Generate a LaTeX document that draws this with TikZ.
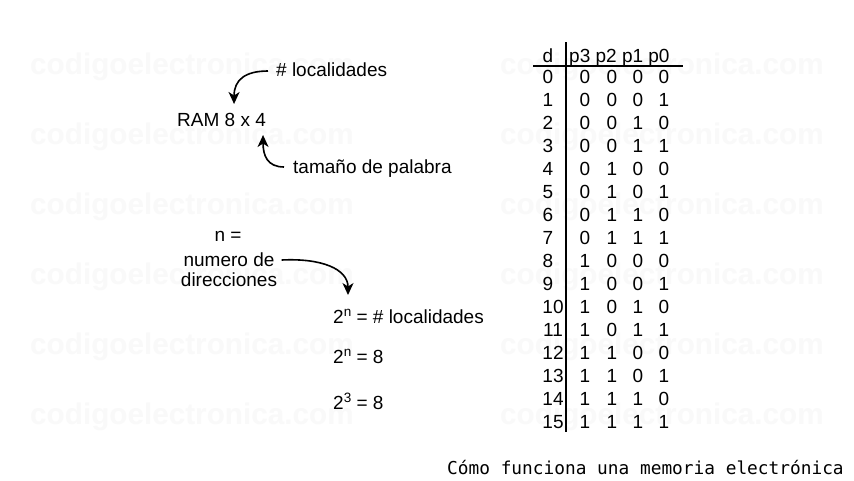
\documentclass[tikz,border=0pt]{standalone}
\usepackage{fontspec}
\setmainfont{Liberation Sans}
\newfontfamily\capfont{DejaVu Sans Mono}
\usetikzlibrary{arrows.meta,calc}
\newcommand\supx[1]{\raisebox{7.5pt}{\fontsize{13.5}{14}\selectfont #1}}
\tikzset{
  txt/.style={inner sep=0pt, font=\fontsize{19}{22}\selectfont, text height=13.6pt, text depth=0pt},
  wm/.style={inner sep=0pt, anchor=west, font=\fontsize{29.7}{32}\selectfont\bfseries, text=black!2.5},
  arr/.style={line width=1.6pt, -{Stealth[length=12pt,width=11pt,inset=3.5pt]}},
  tabrule/.style={line width=1.4pt}
}
\begin{document}
\begin{tikzpicture}[x=1pt,y=-1pt]
\useasboundingbox[fill=white] (0,0) rectangle (854,480);
% watermark
\foreach \y [count=\k] in {67,137,207,277,347,417}{
  \node[wm] (wl\k) at (30,\y) {codigoelectronica.com};
  \node[wm] (wr\k) at (500,\y) {codigoelectronica.com};
}
% left texts
\node[txt,anchor=west] (ram) at (177,120) {RAM 8 x 4};
\node[txt,anchor=west] (loc) at (276,70) {\# localidades};
\node[txt,anchor=west] (pal) at (293,167) {tamaño de palabra};
\node[txt] (n) at (228,235) {n =};
\node[txt] (num) at (229,260) {numero de};
\node[txt] (dir) at (229,280) {direcciones};
\node[txt,anchor=west] (f1) at (333,317) {2\supx{n} = \# localidades};
\node[txt,anchor=west] (f2) at (333,357) {2\supx{n} = 8};
\node[txt,anchor=west] (f3) at (333,403) {2\supx{3} = 8};
% arrows
\draw[arr] ($(loc.west)+(-8,1)$) .. controls +(-23,0) and +(0,-24) .. ($(ram.north)+(12.5,-9)$);
\draw[arr] ($(pal.west)+(-9,0)$) .. controls +(-17,0) and +(0,20) .. ($(ram.south)+(41.5,8)$);
\draw[arr] ($(num.east)+(7,0)$) .. controls +(40,-2) and +(0,-26) .. ($(f1.north west)+(15,-15)$);
% table
\node[txt] (hd) at (548,56) {d};
\node[txt,anchor=west] (hp) at (569,56) {p3 p2 p1 p0};
\foreach \i in {0,...,15}{
  \pgfmathtruncatemacro\ya{77+23*\i}
  \pgfmathtruncatemacro\bA{int(\i/8)}
  \pgfmathtruncatemacro\bB{mod(int(\i/4),2)}
  \pgfmathtruncatemacro\bC{mod(int(\i/2),2)}
  \pgfmathtruncatemacro\bD{mod(\i,2)}
  \ifnum\i<10 \def\dx{548}\else\def\dx{553}\fi
  \node[txt] (d\i) at (\dx,\ya) {\i};
  \node[txt] (pa\i) at (585,\ya) {\bA};
  \node[txt] (pb\i) at (612,\ya) {\bB};
  \node[txt] (pc\i) at (638,\ya) {\bC};
  \node[txt] (pd\i) at (664,\ya) {\bD};
}
\draw[tabrule] (533,66) -- (683,66);
\draw[tabrule] (566,42) -- (566,432);
% caption
\node[anchor=west, inner sep=0pt, font=\capfont\fontsize{17.8}{20}\selectfont] (cap) at (447,467) {Cómo funciona una memoria electrónica};
\end{tikzpicture}
\end{document}
